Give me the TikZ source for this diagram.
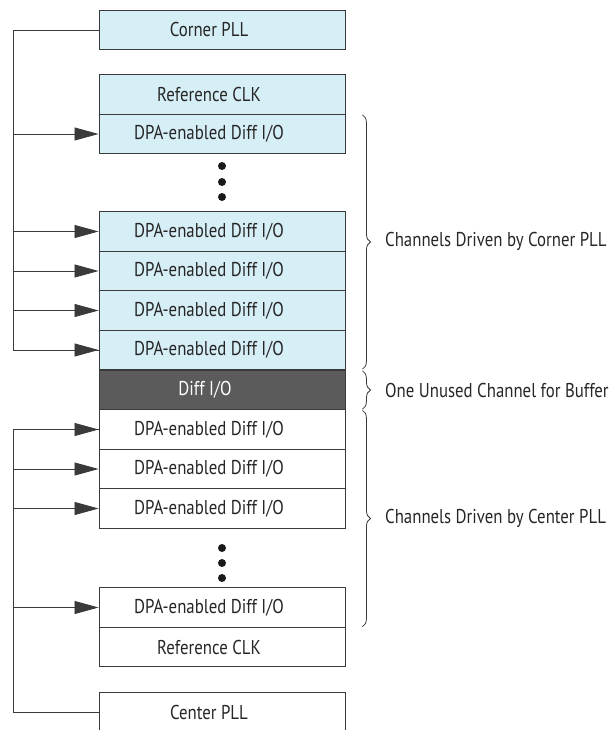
\documentclass[tikz,border=0pt]{standalone}
\usepackage{fontspec}
\setmainfont{PT Sans}[FakeStretch=0.84]
\usepackage{tikz}
\usetikzlibrary{arrows.meta,decorations.pathreplacing,calc}
\definecolor{paleBlue}{HTML}{D6EEF5}
\definecolor{darkGray}{HTML}{5B5B5B}
\definecolor{lineGray}{HTML}{3A3A3A}

\begin{document}
\begin{tikzpicture}[x=1pt, y=-1pt,
        every node/.style={font=\fontsize{20}{23}\selectfont, text=black!85},
        cell/.style={draw=lineGray, line width=0.9pt, minimum width=246pt, minimum height=39.5pt, inner sep=0pt,
            execute at begin node=\hspace*{-26pt}},
        blue/.style={cell, fill=paleBlue},
        plain/.style={cell, fill=white},
        unused/.style={cell, fill=darkGray, text=white, execute at begin node=\hspace*{-8pt}},
        wire/.style={draw=lineGray, line width=0.8pt},
        feed/.style={wire, -{Triangle[length=24pt, width=13pt]}},
        bracket/.style={draw=lineGray, line width=0.8pt, decorate, decoration={brace, amplitude=8pt}},
        note/.style={anchor=west, inner sep=0pt}]
    \useasboundingbox (0,0) rectangle (612,730);
    % corner side
    \node[blue] (cornerPll) at (222,30) {Corner PLL};
    \node[blue] (refTop) at (222,94.5) {Reference CLK};
    \node[blue] (dpaA) at (222,134) {DPA-enabled Diff I/O};
    \node[blue] (dpaB) at (222,231.5) {DPA-enabled Diff I/O};
    \node[blue] (dpaC) at (222,271) {DPA-enabled Diff I/O};
    \node[blue] (dpaD) at (222,310.5) {DPA-enabled Diff I/O};
    \node[blue] (dpaE) at (222,350) {DPA-enabled Diff I/O};
    % buffer channel
    \node[unused] (spare) at (222,390) {Diff I/O};
    % center side
    \node[plain] (dpaF) at (222,429.5) {DPA-enabled Diff I/O};
    \node[plain] (dpaG) at (222,469) {DPA-enabled Diff I/O};
    \node[plain] (dpaH) at (222,508.5) {DPA-enabled Diff I/O};
    \node[plain] (dpaI) at (222,607.5) {DPA-enabled Diff I/O};
    \node[plain] (refBot) at (222,647) {Reference CLK};
    \node[plain] (centerPll) at (222,712.5) {Center PLL};

    % dots
    \foreach \y in {166,182,197,548,563,578}
        \fill[black!90] (222,\y) circle (4pt);

    % clock buses
    \coordinate (busTop) at (13,30);
    \coordinate (busBot) at (13,712.5);
    \draw[wire] (cornerPll.west) -- (busTop) |- (dpaE.west);
    \foreach \r in {dpaA,dpaB,dpaC,dpaD,dpaE}
        \draw[feed] (busTop |- \r.west) -- (\r.west);
    \draw[wire] (centerPll.west) -- (busBot) |- (dpaF.west);
    \foreach \r in {dpaF,dpaG,dpaH,dpaI}
        \draw[feed] (busBot |- \r.west) -- (\r.west);

    % braces
    \draw[bracket] ($(dpaA.north east)+(17,1)$) -- ($(dpaE.south east)+(17,-1)$);
    \draw[bracket] ($(spare.north east)+(17,1)$) -- ($(spare.south east)+(17,-1)$);
    \draw[bracket] ($(dpaF.north east)+(17,1)$) -- ($(dpaI.south east)+(17,-1)$);
    \node[note] (cornerNote) at (385,241) {Channels Driven by Corner PLL};
    \node[note] (spareNote) at (385,390) {One Unused Channel for Buffer};
    \node[note] (centerNote) at (385,518) {Channels Driven by Center PLL};
\end{tikzpicture}
\end{document}
